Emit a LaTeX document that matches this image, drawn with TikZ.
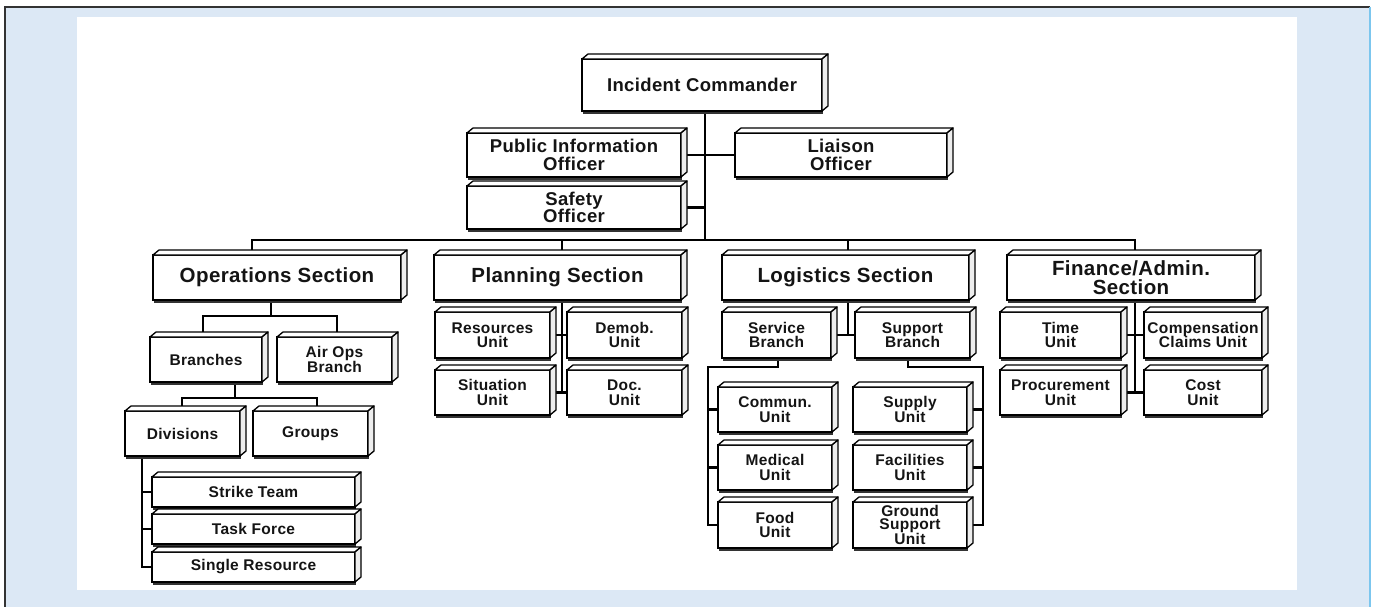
\documentclass[tikz,border=0pt]{standalone}
\usepackage{fontspec}
\setmainfont{Liberation Sans}
\newfontfamily\labfont{Liberation Sans}[LetterSpace=2]
\usetikzlibrary{calc,backgrounds}
\definecolor{bgblue}{HTML}{DCE8F5}
\definecolor{edgecyan}{HTML}{7CC6EE}
\definecolor{txt}{HTML}{141414}
\begin{document}
\begin{tikzpicture}[x=1pt,y=-1pt,
  box/.style={draw, line width=2.4pt, fill=white, inner sep=1pt, outer sep=0pt, align=center, text=txt},
  fbig/.style={font=\labfont\fontsize{18.5}{17.5}\selectfont\bfseries},
  fsec/.style={font=\labfont\fontsize{20.5}{18.5}\selectfont\bfseries},
  funit/.style={font=\labfont\fontsize{15.5}{14.5}\selectfont\bfseries},
  topface/.style={draw, line width=1.3pt, fill=white, line join=round},
  sideface/.style={draw, line width=1.3pt, fill=gray!14, line join=round},
  conn/.style={draw, line width=2.2pt, line join=miter},
  bigbox/.style={box, fbig, minimum width=#1},
  secbox/.style={box, fsec, minimum width=#1, minimum height=45pt},
  unitbox/.style={box, funit, minimum width=#1, minimum height=45pt},
  rowbox/.style={box, funit, minimum width=203pt, minimum height=30pt}
]
\useasboundingbox (0,0) rectangle (1376,607);

% top level
\node[bigbox=240, minimum height=52pt] (ic) at (702,85) {Incident Commander};
\node[bigbox=214, minimum height=44pt] (pio) at (574,155) {Public Information\\Officer};
\node[bigbox=214, minimum height=43pt] (saf) at (574,207.5) {Safety\\Officer};
\node[bigbox=212, minimum height=44pt] (lia) at (841,155) {Liaison\\Officer};

% sections
\node[secbox=248] (ops) at (277,277.5) {Operations Section};
\node[secbox=247] (plan) at (557.5,277.5) {Planning Section};
\node[secbox=247] (log) at (845.5,277.5) {Logistics Section};
\node[secbox=248] (fin) at (1131,277.5) {Finance/Admin.\\Section};

% operations
\node[unitbox=112] (br) at (206,359.5) {Branches};
\node[unitbox=115] (air) at (334.5,359.5) {Air Ops\\Branch};
\node[unitbox=115] (div) at (182.5,433.5) {Divisions};
\node[unitbox=115] (grp) at (310.5,433.5) {Groups};
\node[rowbox] (strike) at (253.5,492) {Strike Team};
\node[rowbox] (task) at (253.5,529) {Task Force};
\node[rowbox] (single) at (253.5,567) {Single Resource};

% planning
\node[unitbox=115, minimum height=46pt] (res) at (492.5,335) {Resources\\Unit};
\node[unitbox=115, minimum height=46pt] (demob) at (624.5,335) {Demob.\\Unit};
\node[unitbox=115] (sit) at (492.5,392.5) {Situation\\Unit};
\node[unitbox=115] (doc) at (624.5,392.5) {Doc.\\Unit};

% logistics
\node[unitbox=109, minimum height=46pt] (svc) at (776.5,335) {Service\\Branch};
\node[unitbox=115, minimum height=46pt] (sup) at (912.5,335) {Support\\Branch};
\node[unitbox=114] (com) at (775,409.5) {Commun.\\Unit};
\node[unitbox=114] (med) at (775,467.5) {Medical\\Unit};
\node[unitbox=114, minimum height=46pt] (food) at (775,525) {Food\\Unit};
\node[unitbox=114] (supply) at (910,409.5) {Supply\\Unit};
\node[unitbox=114] (fac) at (910,467.5) {Facilities\\Unit};
\node[unitbox=114, minimum height=46pt, font=\labfont\fontsize{15.5}{13}\selectfont\bfseries] (gnd) at (910,525) {Ground\\Support\\Unit};

% finance
\node[unitbox=121, minimum height=46pt] (time) at (1060.5,335) {Time\\Unit};
\node[unitbox=118, minimum height=46pt] (comp) at (1203,335) {Compensation\\Claims Unit};
\node[unitbox=121] (proc) at (1060.5,392.5) {Procurement\\Unit};
\node[unitbox=118] (cost) at (1203,392.5) {Cost\\Unit};

% 3D faces
\foreach \n in {ic,pio,saf,lia,ops,plan,log,fin,br,air,div,grp,strike,task,single,res,demob,sit,doc,svc,sup,com,med,food,supply,fac,gnd,time,comp,proc,cost}{
  \path[topface] (\n.north west) -- ($(\n.north west)+(6,-5)$) -- ($(\n.north east)+(6,-5)$) -- (\n.north east) -- cycle;
  \path[sideface] (\n.north east) -- ($(\n.north east)+(6,-5)$) -- ($(\n.south east)+(6,-5)$) -- (\n.south east) -- cycle;
  \draw[line width=1.4pt, black!80] ($(\n.south west)+(1,2)$) -- ($(\n.south east)+(1,2)$);
}

\begin{scope}[on background layer]
  % page background
  \fill[white] (0,0) rectangle (1376,607);
  \fill[bgblue] (5,7) rectangle (1370,607);
  \draw[line width=1.5pt, black!80] (5,607) -- (5,7) -- (1370,7);
  \draw[line width=2pt, edgecyan] (1370,7) -- (1370,607);
  \fill[white] (77,17) rectangle (1297,590);

  % connectors: top
  \coordinate (t0) at (705,240);
  \draw[conn] (ic.south -| t0) -- (t0);
  \draw[conn] (pio.east) -- (lia.west);
  \draw[conn] (saf.east) -- (saf.east -| t0);
  \coordinate (bL) at (252,240);
  \coordinate (bR) at (1135,240);
  \coordinate (jp) at (562,240);
  \coordinate (jl) at (848,240);
  \draw[conn] (ops.north -| bL) -- (bL) -- (bR) -- (fin.north -| bR);
  \draw[conn] (jp) -- (jp |- plan.north);
  \draw[conn] (jl) -- (jl |- log.north);

  % operations
  \coordinate (o1) at (271,316);
  \coordinate (o2) at (203,316);
  \coordinate (o3) at (337,316);
  \draw[conn] (o1 |- ops.south) -- (o1);
  \draw[conn] (o2 |- br.north) -- (o2) -- (o3) -- (o3 |- air.north);
  \coordinate (b1) at (235,398);
  \coordinate (b2) at (182,398);
  \coordinate (b3) at (317,398);
  \draw[conn] (b1 |- br.south) -- (b1);
  \draw[conn] (b2 |- div.north) -- (b2) -- (b3) -- (b3 |- grp.north);
  \coordinate (d1) at (142,456);
  \draw[conn] (div.south -| d1) -- (single.west -| d1) -- (single.west);
  \draw[conn] (strike.west -| d1) -- (strike.west);
  \draw[conn] (task.west -| d1) -- (task.west);

  % planning
  \coordinate (p1) at (562,300);
  \draw[conn] (p1) -- (p1 |- sit.east);
  \draw[conn] (res.east) -- (demob.west);
  \draw[conn] (sit.east) -- (doc.west);

  % logistics
  \draw[conn] (jl |- log.south) -- (jl |- svc.east);
  \draw[conn] (svc.east) -- (sup.west);
  \coordinate (s1) at (778,367);
  \coordinate (s2) at (708,367);
  \draw[conn] (s1 |- svc.south) -- (s1) -- (s2) -- (s2 |- food.west) -- (food.west);
  \draw[conn] (s2 |- com.west) -- (com.west);
  \draw[conn] (s2 |- med.west) -- (med.west);
  \coordinate (u1) at (908,367);
  \coordinate (u2) at (983,367);
  \draw[conn] (u1 |- sup.south) -- (u1) -- (u2) -- (u2 |- gnd.east) -- (gnd.east);
  \draw[conn] (u2 |- supply.east) -- (supply.east);
  \draw[conn] (u2 |- fac.east) -- (fac.east);

  % finance
  \coordinate (f1) at (1135,300);
  \draw[conn] (f1) -- (f1 |- proc.east);
  \draw[conn] (time.east) -- (comp.west);
  \draw[conn] (proc.east) -- (cost.west);
\end{scope}
\end{tikzpicture}
\end{document}
